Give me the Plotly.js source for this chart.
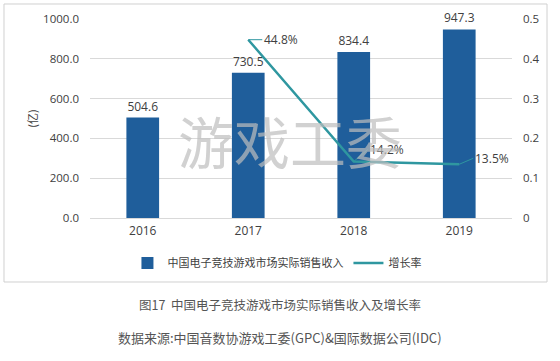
<!DOCTYPE html>
<html>
<head>
<meta charset="utf-8">
<script src="https://cdn.plot.ly/plotly-3.0.1.min.js"></script>
<style>html,body{margin:0;padding:0;background:#fff;}#chart{width:560px;height:361px;}</style>
</head>
<body>
<div id="chart"></div>
<script>
const years = ['2016', '2017', '2018', '2019'];
const revenue = [504.6, 730.5, 834.4, 947.3];
const growthYears = ['2017', '2018', '2019'];
const growth = [0.448, 0.142, 0.135];
const revenueName = '中国电子竞技游戏市场实际销售收入';
const growthName = '增长率';
const yTitle = '(亿)';
const watermark = '游戏工委';
const caption1 = '图17  中国电子竞技游戏市场实际销售收入及增长率';
const caption2 = '数据来源:中国音数协游戏工委(GPC)&国际数据公司(IDC)';

const FONT = 'Open Sans, Noto Sans CJK SC, sans-serif';
const CJK = 'Noto Sans CJK SC, sans-serif';
const barColor = '#1f5e9b';
const lineColor = '#2f97a0';

const traces = [
  {
    type: 'bar', x: years, y: revenue, name: revenueName,
    marker: {color: barColor},
    text: revenue.map(v => v.toFixed(1)), textposition: 'outside',
    textfont: {size: 12, color: '#404040', family: FONT},
    cliponaxis: false, hoverinfo: 'none'
  },
  {
    type: 'scatter', mode: 'lines', x: growthYears, y: growth, name: growthName,
    yaxis: 'y2', line: {color: lineColor, width: 2.5}, hoverinfo: 'none'
  }
];

const offsets = [[14, 0], [14, -12], [14, -6]];
const annotations = growth.map((v, i) => ({
  x: years.indexOf(growthYears[i]), y: v, xref: 'x', yref: 'y2',
  text: (v * 100).toFixed(1) + '%', showarrow: true, arrowhead: 0,
  arrowwidth: 1, arrowcolor: lineColor,
  ax: offsets[i][0], ay: offsets[i][1], xanchor: 'left', yanchor: 'middle',
  font: {size: 12, color: '#404040', family: FONT}
}));
annotations.push(
  {xref: 'paper', yref: 'paper', x: 0.474, y: 0.392, xanchor: 'center', yanchor: 'middle',
   text: watermark, showarrow: false,
   font: {size: 56, color: 'rgba(190,190,190,0.7)', family: CJK}},
  {xref: 'paper', yref: 'paper', x: 0.45, y: -0.437, xanchor: 'center', yanchor: 'middle',
   text: caption1, showarrow: false,
   font: {size: 12.5, color: '#555', family: CJK}},
  {xref: 'paper', yref: 'paper', x: 0.45, y: -0.603, xanchor: 'center', yanchor: 'middle',
   text: caption2, showarrow: false,
   font: {size: 13, color: '#555', family: CJK}}
);

const layout = {
  width: 560, height: 361,
  margin: {l: 90, r: 48, t: 19, b: 143},
  paper_bgcolor: '#fff', plot_bgcolor: 'rgba(0,0,0,0)',
  font: {family: FONT, size: 11, color: '#595959'},
  bargap: 0.69,
  showlegend: true,
  legend: {orientation: 'h', x: 0.443, xanchor: 'center', y: -0.226, yanchor: 'middle',
           font: {size: 11, color: '#404040', family: CJK}},
  xaxis: {type: 'category', range: [-0.5, years.length - 0.5], showgrid: false, ticks: '', showline: false,
          ticklabelstandoff: 4, tickfont: {size: 12, color: '#404040'}},
  yaxis: {range: [0, 1000], dtick: 200, tickformat: '.1f', showgrid: true,
          gridcolor: '#d9d9d9', zeroline: true, zerolinecolor: '#d9d9d9', ticks: '',
          ticklabelstandoff: 10, tickfont: {size: 11.5, color: '#404040'},
          title: {text: yTitle, font: {size: 11, color: '#404040', family: CJK}, standoff: 3}},
  yaxis2: {range: [0, 0.5], dtick: 0.1, overlaying: 'y', side: 'right', showgrid: false,
           zeroline: false, ticks: '', ticklabelstandoff: 10,
           tickfont: {size: 11.5, color: '#404040'}},
  shapes: [{type: 'rect', xref: 'paper', yref: 'paper', x0: -0.2038, x1: 1.083,
            y0: -0.3216, y1: 1.0754, line: {color: '#d0d0d0', width: 1}, layer: 'below'}],
  annotations: annotations
};

Plotly.newPlot('chart', traces, layout, {displayModeBar: false, staticPlot: true});
</script>
</body>
</html>
